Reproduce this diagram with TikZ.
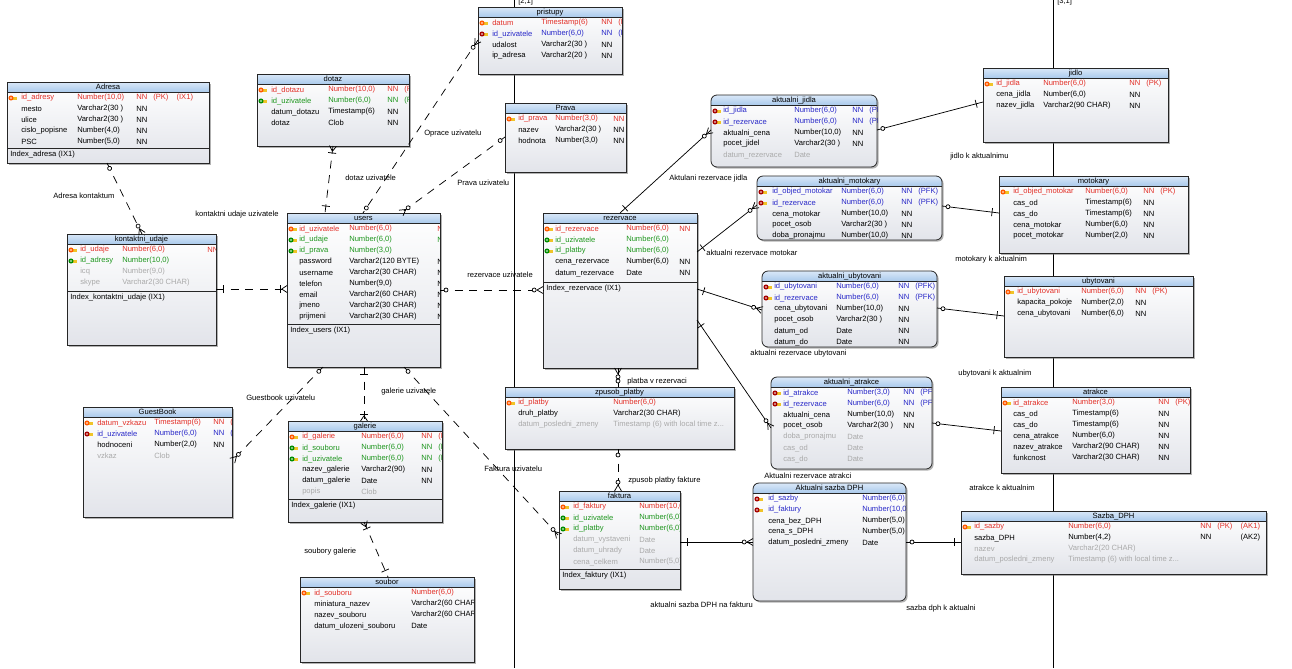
\documentclass[tikz,border=0pt]{standalone}
\usepackage{fontspec}
\setmainfont{Liberation Sans}
\usetikzlibrary{positioning,calc,shadows,decorations.markings}

\definecolor{rpk}{RGB}{226,48,40}
\definecolor{rfk}{RGB}{30,150,30}
\definecolor{rpf}{RGB}{40,40,200}
\definecolor{rno}{RGB}{0,0,0}
\definecolor{rop}{RGB}{170,170,170}
\definecolor{hdrtop}{RGB}{218,232,248}
\definecolor{hdrbot}{RGB}{170,202,236}
\definecolor{tabbot}{RGB}{226,228,234}
\definecolor{keygold}{RGB}{240,196,40}

\newcommand{\tabfont}{\fontsize{5.7}{6.5}\selectfont}
\newcommand{\flg}[3]{\makebox[12.75pt][l]{#1}\makebox[17.5pt][l]{#2}#3}

% key icons in front of the key columns
\newcommand{\keyicon}[3]{\fill[keygold] (#1,#2-1.5) rectangle (#1+5.8,#2+1.5); \fill[#3] (#1,#2) circle[radius=1.9pt]; \fill[white] (#1,#2) circle[radius=0.6pt];}
\newcommand{\icorpk}[2]{\keyicon{#1}{#2}{orange!70!red}}
\newcommand{\icorfk}[2]{\keyicon{#1}{#2}{green!55!black}}
\newcommand{\icorpf}[2]{\keyicon{#1}{#2}{red!65!black}}
\newcommand{\icorno}[2]{}
\newcommand{\icorop}[2]{}

% relation ends (#1 = 1 at the start, -1 at the end)
\newcommand{\mkcrow}[1]{\draw[solid,line width=0.55pt] (#1*4.5pt,0pt) -- (0pt,2.6pt) (#1*4.5pt,0pt) -- (0pt,-2.6pt); \draw[solid,line width=0.55pt,fill=white] (#1*6.6pt,0pt) circle[radius=1.5pt];}
\newcommand{\mkbar}[1]{\draw[solid,line width=0.55pt] (#1*5.25pt,-3pt) -- (#1*5.25pt,3pt);}
\newcommand{\mkring}[1]{\draw[solid,line width=0.55pt,fill=white] (#1*4.5pt,0pt) circle[radius=1.5pt];}
\newcommand{\mkcbar}[1]{\mkbar{#1}\draw[solid,line width=0.55pt] (#1*4pt,0pt) -- (0pt,2.6pt) (#1*4pt,0pt) -- (0pt,-2.6pt);}

\tikzset{
  tbl/.style={anchor=north west, inner sep=0pt, outer sep=0pt, top color=white, bottom color=tabbot,
    drop shadow={shadow xshift=1.2pt, shadow yshift=-1.2pt, fill=black!60, opacity=0.5}},
  hdr/.style={top color=hdrtop, bottom color=hdrbot},
  tabline/.style={draw=black!85, line width=0.6pt},
  cell/.style={inner sep=0pt, anchor=west, font=\tabfont},
  lbl/.style={inner sep=0pt, anchor=west, font=\tabfont},
  rel/.style={line width=0.55pt, dash pattern=on 6pt off 5pt},
  solidrel/.style={line width=0.55pt},
  pageline/.style={line width=0.75pt, black},
  startm/.style={postaction={decorate,decoration={markings,mark=at position 0 with {\csname mk#1\endcsname{1}}}}},
  endm/.style={postaction={decorate,decoration={markings,mark=at position 1 with {\csname mk#1\endcsname{-1}}}}}
}

% table: name, x, y, width, height, corner radius, title
\newcommand{\tabopen}[7]{%
  \node[tbl, rounded corners=#6*0.75pt, minimum width=#4*0.75pt, minimum height=#5*0.75pt] (#1) at (#2,#3) {};
  \begin{scope}
  \clip[rounded corners=#6*0.75pt] (#1.north west) rectangle (#1.south east);
  \path[hdr] (#1.north west) rectangle ([yshift=-7.5pt]#1.north east);
  \draw[tabline] ([yshift=-7.5pt]#1.north west) -- ([yshift=-7.5pt]#1.north east);
  \node[cell, anchor=center] (#1-t) at ([yshift=-3.8pt]#1.north) {#7};
  \def\tx{#2}\def\ty{#3}\def\tw{#4}%
}
\newcommand{\tabrows}[5]{%
  \foreach \rk/\rn/\rt/\rf [count=\ri] in {#5} {
    \pgfmathsetmacro\ry{\ty+16+11*(\ri-1)}
    \csname ico\rk\endcsname{\tx+4}{\ry}
    \node[cell, text=\rk] (#1-n\ri) at (#2,\ry) {\rn};
    \node[cell, text=\rk] (#1-y\ri) at (#3,\ry) {\rt};
    \node[cell, text=\rk] (#1-f\ri) at (#4,\ry) {\rf};
  }%
}
\newcommand{\tabindex}[3]{%
  \draw[tabline] (\tx,#2) -- (\tx+\tw,#2);
  \node[cell] (#1-ix) at (\tx+3,#2+6.5) {#3};
}
\newcommand{\tabclose}[2]{\end{scope}\draw[tabline, rounded corners=#2*0.75pt] (#1.north west) rectangle (#1.south east);}

\begin{document}
\catcode`\_=12
\begin{tikzpicture}[x=0.75pt, y=-0.75pt]
\useasboundingbox (0,0) rectangle (1292,668);

% page borders
\draw[pageline] (514,0) -- (514,668);
\draw[pageline] (1053,0) -- (1053,668);
\node[lbl] (p21) at (518,2) {[2,1]};
\node[lbl] (p31) at (1057,2) {[3,1]};

% tables
\tabopen{adresa}{7}{82}{202}{81}{0}{Adresa}
\tabrows{adresa}{21}{77}{136}{rpk/id_adresy/{Number(10,0)}/{\flg{NN}{(PK)}{(IX1)}}, rno/mesto/{Varchar2(30 )}/NN, rno/ulice/{Varchar2(30 )}/NN, rno/cislo_popisne/{Number(4,0)}/NN, rno/PSC/{Number(5,0)}/NN}
\tabindex{adresa}{148}{Index_adresa (IX1)}
\tabclose{adresa}{0}

\tabopen{kontakt}{67}{234}{149}{111}{0}{kontaktni_udaje}
\tabrows{kontakt}{80}{122}{207}{rpk/id_udaje/{Number(6,0)}/NN, rfk/id_adresy/{Number(10,0)}/{}, rop/icq/{Number(9,0)}/{}, rop/skype/{Varchar2(30 CHAR)}/{}}
\tabindex{kontakt}{291}{Index_kontaktni_udaje (IX1)}
\tabclose{kontakt}{0}

\tabopen{dotaz}{257}{74}{152}{72}{0}{dotaz}
\tabrows{dotaz}{271}{328}{387}{rpk/id_dotazu/{Number(10,0)}/{\flg{NN}{(PK)}{}}, rfk/id_uzivatele/{Number(6,0)}/{\flg{NN}{(FK)}{}}, rno/datum_dotazu/{Timestamp(6)}/NN, rno/dotaz/Clob/NN}
\tabclose{dotaz}{0}

\tabopen{pristupy}{478}{7}{144}{67}{0}{pristupy}
\tabrows{pristupy}{492}{541}{601}{rpk/datum/{Timestamp(6)}/{\flg{NN}{(PK)}{}}, rpf/id_uzivatele/{Number(6,0)}/{\flg{NN}{(PFK)}{}}, rno/udalost/{Varchar2(30 )}/NN, rno/ip_adresa/{Varchar2(20 )}/NN}
\tabclose{pristupy}{0}

\tabopen{prava}{505}{103}{121}{69}{0}{Prava}
\tabrows{prava}{518}{555}{613}{rpk/id_prava/{Number(3,0)}/NN, rno/nazev/{Varchar2(30 )}/NN, rno/hodnota/{Number(3,0)}/NN}
\tabclose{prava}{0}

\tabopen{users}{287}{213}{153}{154}{0}{users}
\tabrows{users}{299}{349}{437}{rpk/id_uzivatele/{Number(6,0)}/NN, rfk/id_udaje/{Number(6,0)}/NN, rfk/id_prava/{Number(3,0)}/{}, rno/password/{Varchar2(120 BYTE)}/NN, rno/username/{Varchar2(30 CHAR)}/NN, rno/telefon/{Number(9,0)}/NN, rno/email/{Varchar2(60 CHAR)}/NN, rno/jmeno/{Varchar2(30 CHAR)}/NN, rno/prijmeni/{Varchar2(30 CHAR)}/NN}
\tabindex{users}{324}{Index_users (IX1)}
\tabclose{users}{0}

\tabopen{aktjidla}{711}{95}{166}{72}{6}{aktualni_jidla}
\tabrows{aktjidla}{723}{794}{852}{rpf/id_jidla/{Number(6,0)}/{\flg{NN}{(PFK)}{}}, rpf/id_rezervace/{Number(6,0)}/{\flg{NN}{(PFK)}{}}, rno/aktualni_cena/{Number(10,0)}/NN, rno/pocet_jidel/{Varchar2(30 )}/NN, rop/datum_rezervace/Date/{}}
\tabclose{aktjidla}{6}

\tabopen{jidlo}{983}{68}{185}{74}{0}{jidlo}
\tabrows{jidlo}{996}{1043}{1129}{rpk/id_jidla/{Number(6,0)}/{\flg{NN}{(PK)}{}}, rno/cena_jidla/{Number(6,0)}/NN, rno/nazev_jidla/{Varchar2(90 CHAR)}/NN}
\tabclose{jidlo}{0}

\tabopen{motokary}{999}{176}{189}{77}{0}{motokary}
\tabrows{motokary}{1013}{1085}{1143}{rpk/id_objed_motokar/{Number(6,0)}/{\flg{NN}{(PK)}{}}, rno/cas_od/{Timestamp(6)}/NN, rno/cas_do/{Timestamp(6)}/NN, rno/cena_motokar/{Number(6,0)}/NN, rno/pocet_motokar/{Number(2,0)}/NN}
\tabclose{motokary}{0}

\tabopen{rezervace}{543}{213}{154}{155}{0}{rezervace}
\tabrows{rezervace}{555}{626}{679}{rpk/id_rezervace/{Number(6,0)}/NN, rfk/id_uzivatele/{Number(6,0)}/{}, rfk/id_platby/{Number(6,0)}/{}, rno/cena_rezervace/{Number(6,0)}/NN, rno/datum_rezervace/Date/NN}
\tabindex{rezervace}{282}{Index_rezervace (IX1)}
\tabclose{rezervace}{0}

\tabopen{aktmoto}{757}{176}{185}{64}{6}{aktualni_motokary}
\tabrows{aktmoto}{772}{841}{901}{rpf/id_objed_motokar/{Number(6,0)}/{\flg{NN}{(PFK)}{}}, rpf/id_rezervace/{Number(6,0)}/{\flg{NN}{(PFK)}{}}, rno/cena_motokar/{Number(10,0)}/NN, rno/pocet_osob/{Varchar2(30 )}/NN, rno/doba_pronajmu/{Number(10,0)}/NN}
\tabclose{aktmoto}{6}

\tabopen{aktubyt}{762}{271}{175}{76}{6}{aktualni_ubytovani}
\tabrows{aktubyt}{774}{836}{898}{rpf/id_ubytovani/{Number(6,0)}/{\flg{NN}{(PFK)}{}}, rpf/id_rezervace/{Number(6,0)}/{\flg{NN}{(PFK)}{}}, rno/cena_ubytovani/{Number(10,0)}/NN, rno/pocet_osob/{Varchar2(30 )}/NN, rno/datum_od/Date/NN, rno/datum_do/Date/NN}
\tabclose{aktubyt}{6}

\tabopen{ubytovani}{1004}{276}{189}{81}{0}{ubytovani}
\tabrows{ubytovani}{1017}{1081}{1135}{rpk/id_ubytovani/{Number(6,0)}/{\flg{NN}{(PK)}{}}, rno/kapacita_pokoje/{Number(2,0)}/NN, rno/cena_ubytovani/{Number(6,0)}/NN}
\tabclose{ubytovani}{0}

\tabopen{guestbook}{83}{407}{149}{110}{0}{GuestBook}
\tabrows{guestbook}{97}{154}{213}{rpk/datum_vzkazu/{Timestamp(6)}/{\flg{NN}{(PK)}{}}, rpf/id_uzivatele/{Number(6,0)}/{\flg{NN}{(PFK)}{}}, rno/hodnoceni/{Number(2,0)}/NN, rop/vzkaz/Clob/{}}
\tabclose{guestbook}{0}

\tabopen{galerie}{288}{421}{154}{101}{0}{galerie}
\tabrows{galerie}{302}{361}{421}{rpk/id_galerie/{Number(6,0)}/{\flg{NN}{(PK)}{}}, rfk/id_souboru/{Number(6,0)}/{\flg{NN}{(FK)}{}}, rfk/id_uzivatele/{Number(6,0)}/{\flg{NN}{(FK)}{}}, rno/nazev_galerie/{Varchar2(90)}/NN, rno/datum_galerie/Date/NN, rop/popis/Clob/{}}
\tabindex{galerie}{499}{Index_galerie (IX1)}
\tabclose{galerie}{0}

\tabopen{zpusob}{505}{387}{229}{62}{0}{zpusob_platby}
\tabrows{zpusob}{518}{613}{700}{rpk/id_platby/{Number(6,0)}/{}, rno/druh_platby/{Varchar2(30 CHAR)}/{}, rop/datum_posledni_zmeny/{Timestamp (6) with local time z...}/{}}
\tabclose{zpusob}{0}

\tabopen{aktatr}{771}{377}{161}{92}{6}{aktualni_atrakce}
\tabrows{aktatr}{783}{847}{903}{rpf/id_atrakce/{Number(3,0)}/{\flg{NN}{(PFK)}{}}, rpf/id_rezervace/{Number(6,0)}/{\flg{NN}{(PFK)}{}}, rno/aktualni_cena/{Number(10,0)}/NN, rno/pocet_osob/{Varchar2(30 )}/NN, rop/doba_pronajmu/Date/{}, rop/cas_od/Date/{}, rop/cas_do/Date/{}}
\tabclose{aktatr}{6}

\tabopen{atrakce}{1001}{387}{189}{86}{0}{atrakce}
\tabrows{atrakce}{1013}{1072}{1158}{rpk/id_atrakce/{Number(3,0)}/{\flg{NN}{(PK)}{}}, rno/cas_od/{Timestamp(6)}/NN, rno/cas_do/{Timestamp(6)}/NN, rno/cena_atrakce/{Number(6,0)}/NN, rno/nazev_atrakce/{Varchar2(90 CHAR)}/NN, rno/funkcnost/{Varchar2(30 CHAR)}/NN}
\tabclose{atrakce}{0}

\tabopen{sazba}{961}{511}{305}{63}{0}{Sazba_DPH}
\tabrows{sazba}{974}{1068}{1200}{rpk/id_sazby/{Number(6,0)}/{\flg{NN}{(PK)}{(AK1)}}, rno/sazba_DPH/{Number(4,2)}/{\flg{NN}{}{(AK2)}}, rop/nazev/{Varchar2(20 CHAR)}/{}, rop/datum_posledni_zmeny/{Timestamp (6) with local time z...}/{}}
\tabclose{sazba}{0}

\tabopen{faktura}{559}{491}{121}{98}{0}{faktura}
\tabrows{faktura}{573}{639}{700}{rpk/id_faktury/{Number(10,0)}/{}, rfk/id_uzivatele/{Number(6,0)}/{}, rfk/id_platby/{Number(6,0)}/{}, rop/datum_vystaveni/Date/{}, rop/datum_uhrady/Date/{}, rop/cena_celkem/{Number(5,0)}/{}}
\tabindex{faktura}{569}{Index_faktury (IX1)}
\tabclose{faktura}{0}

\tabopen{aktsazba}{753}{483}{153}{118}{6}{Aktualni sazba DPH}
\tabrows{aktsazba}{768}{862}{950}{rpf/id_sazby/{Number(6,0)}/{}, rpf/id_faktury/{Number(10,0)}/{}, rno/cena_bez_DPH/{Number(5,0)}/{}, rno/cena_s_DPH/{Number(5,0)}/{}, rno/datum_posledni_zmeny/Date/{}}
\tabclose{aktsazba}{6}

\tabopen{soubor}{300}{577}{174}{85}{0}{soubor}
\tabrows{soubor}{314}{411}{500}{rpk/id_souboru/{Number(6,0)}/{}, rno/miniatura_nazev/{Varchar2(60 CHAR)}/{}, rno/nazev_souboru/{Varchar2(60 CHAR)}/{}, rno/datum_ulozeni_souboru/Date/{}}
\tabclose{soubor}{0}

% relations
\draw[rel, startm=ring, endm=crow] (107,0 |- adresa.south) -- (142,0 |- kontakt.north);
\draw[rel, startm=bar, endm=cbar] (kontakt.east |- 0,289) -- (users.west |- 0,289);
\draw[rel, startm=cbar, endm=bar] (333,0 |- dotaz.south) -- (325,0 |- users.north);
\draw[rel, startm=crow, endm=ring] (pristupy.west |- 0,40) -- (363,0 |- users.north);
\draw[rel, startm=ring, endm=crow] (prava.west |- 0,137) -- (401,0 |- users.north);
\draw[rel, startm=ring, endm=crow] (users.east |- 0,290) -- (rezervace.west |- 0,290);
\draw[rel, startm=ring, endm=crow] (323,0 |- users.south) -- (guestbook.east |- 0,461);
\draw[rel, startm=bar, endm=cbar] (364,0 |- users.south) -- (364,0 |- galerie.north);
\draw[rel, startm=ring, endm=crow] (404,0 |- users.south) -- (faktura.west |- 0,536);
\draw[rel, startm=cbar, endm=bar] (364,0 |- galerie.south) -- (388,0 |- soubor.north);
\draw[rel, startm=crow, endm=ring] (618,0 |- rezervace.south) -- (618,0 |- zpusob.north);
\draw[rel, startm=ring, endm=crow] (618,0 |- zpusob.south) -- (618,0 |- faktura.north);
\draw[solidrel, startm=bar, endm=crow] (620,0 |- rezervace.north) -- (aktjidla.west |- 0,130);
\draw[solidrel, startm=ring, endm=bar] (aktjidla.east |- 0,130) -- (jidlo.west |- 0,102);
\draw[solidrel, startm=bar, endm=crow] (rezervace.east |- 0,252) -- (aktmoto.west |- 0,205);
\draw[solidrel, startm=ring, endm=bar] (aktmoto.east |- 0,206) -- (motokary.west |- 0,213);
\draw[solidrel, startm=bar, endm=crow] (rezervace.east |- 0,289) -- (aktubyt.west |- 0,310);
\draw[solidrel, startm=ring, endm=bar] (aktubyt.east |- 0,308) -- (ubytovani.west |- 0,316);
\draw[solidrel, startm=bar, endm=crow] (rezervace.east |- 0,320) -- (aktatr.west |- 0,428);
\draw[solidrel, startm=ring, endm=bar] (aktatr.east |- 0,423) -- (atrakce.west |- 0,431);
\draw[solidrel, startm=bar, endm=crow] (faktura.east |- 0,542) -- (aktsazba.west |- 0,542);
\draw[solidrel, startm=ring, endm=bar] (aktsazba.east |- 0,542) -- (sazba.west |- 0,542);

% relation names
\node[lbl] (l-adr) at (53,196) {Adresa kontaktum};
\node[lbl] (l-kon) at (195,215) {kontaktni udaje uzivatele};
\node[lbl] (l-dot) at (345,178) {dotaz uzivatele};
\node[lbl] (l-opr) at (424,134) {Oprace uzivatelu};
\node[lbl] (l-pra) at (457,183) {Prava uzivatelu};
\node[lbl] (l-rez) at (467,275) {rezervace uzivatele};
\node[lbl] (l-gue) at (246,398) {Guestbook uzivatelu};
\node[lbl] (l-gal) at (381,392) {galerie uzivatele};
\node[lbl] (l-fak) at (484,469) {Faktura uzivatelu};
\node[lbl] (l-sou) at (304,552) {soubory galerie};
\node[lbl] (l-pla) at (627,382) {platba v rezervaci};
\node[lbl] (l-zpu) at (628,481) {zpusob platby fakture};
\node[lbl] (l-ajid) at (669,179) {Aktulani rezervace jidla};
\node[lbl] (l-jid) at (950,157) {jidlo k aktualnimu};
\node[lbl] (l-amot) at (706,253) {aktualni rezervace motokar};
\node[lbl] (l-mot) at (955,260) {motokary k aktualnim};
\node[lbl] (l-auby) at (750,354) {aktualni rezervace ubytovani};
\node[lbl] (l-uby) at (958,374) {ubytovani k aktualnim};
\node[lbl] (l-aatr) at (764,476) {Aktualni rezervace atrakci};
\node[lbl] (l-atr) at (969,488) {atrakce k aktualnim};
\node[lbl] (l-asaz) at (650,605) {aktualni sazba DPH na fakturu};
\node[lbl] (l-saz) at (906,609) {sazba dph k aktualni};
\end{tikzpicture}
\end{document}
